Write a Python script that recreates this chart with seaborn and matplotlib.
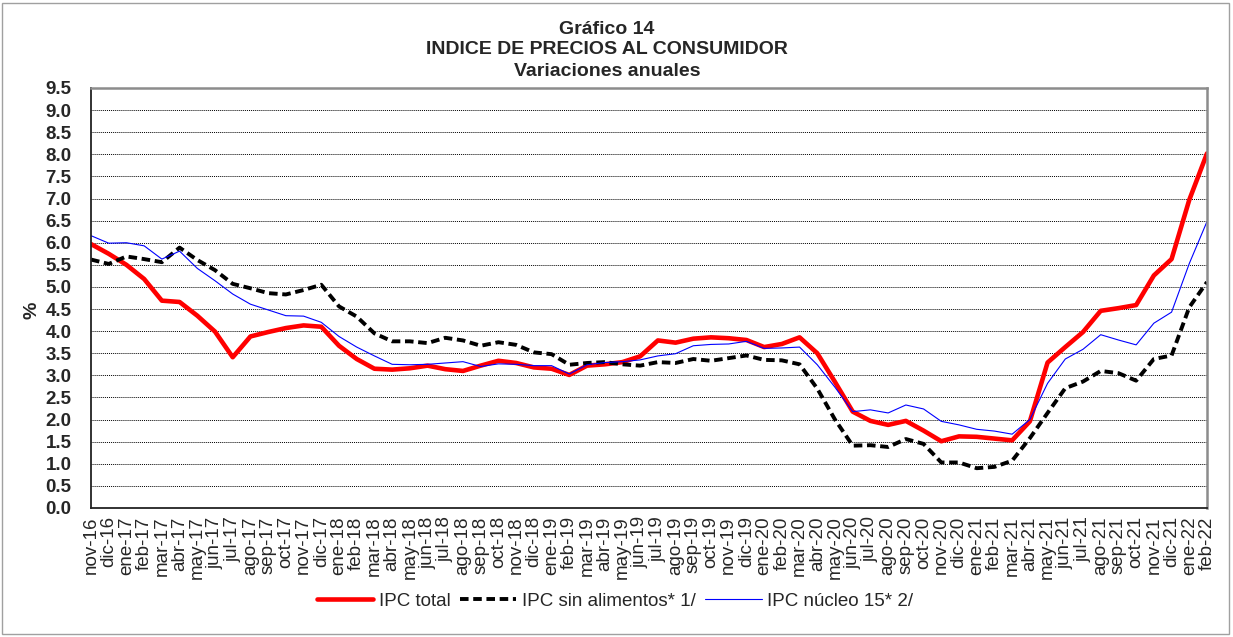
import matplotlib
matplotlib.use("Agg")
import matplotlib.pyplot as plt
from matplotlib.patches import Rectangle
import seaborn as sns
import pandas as pd

# data (annual % change)
months = [
    "nov-16", "dic-16",
    "ene-17", "feb-17", "mar-17", "abr-17", "may-17", "jun-17",
    "jul-17", "ago-17", "sep-17", "oct-17", "nov-17", "dic-17",
    "ene-18", "feb-18", "mar-18", "abr-18", "may-18", "jun-18",
    "jul-18", "ago-18", "sep-18", "oct-18", "nov-18", "dic-18",
    "ene-19", "feb-19", "mar-19", "abr-19", "may-19", "jun-19",
    "jul-19", "ago-19", "sep-19", "oct-19", "nov-19", "dic-19",
    "ene-20", "feb-20", "mar-20", "abr-20", "may-20", "jun-20",
    "jul-20", "ago-20", "sep-20", "oct-20", "nov-20", "dic-20",
    "ene-21", "feb-21", "mar-21", "abr-21", "may-21", "jun-21",
    "jul-21", "ago-21", "sep-21", "oct-21", "nov-21", "dic-21",
    "ene-22", "feb-22",
]

ipc_total = [
    5.97, 5.75, 5.50, 5.18, 4.69, 4.66, 4.35, 3.99, 3.41, 3.88,
    3.98, 4.07, 4.13, 4.10, 3.67, 3.37, 3.15, 3.13, 3.16, 3.22,
    3.14, 3.10, 3.22, 3.33, 3.28, 3.18, 3.15, 3.01, 3.22, 3.25,
    3.30, 3.43, 3.79, 3.74, 3.83, 3.86, 3.84, 3.80, 3.64, 3.71,
    3.86, 3.50, 2.85, 2.18, 1.97, 1.88, 1.97, 1.75, 1.51, 1.62,
    1.61, 1.57, 1.53, 1.96, 3.29, 3.64, 3.98, 4.46, 4.52, 4.59,
    5.26, 5.63, 6.97, 8.02,
]

ipc_sin_alimentos = [
    5.62, 5.52, 5.69, 5.63, 5.56, 5.89, 5.61, 5.38, 5.07, 4.97,
    4.86, 4.83, 4.93, 5.05, 4.56, 4.33, 3.95, 3.77, 3.77, 3.73,
    3.85, 3.79, 3.67, 3.75, 3.69, 3.52, 3.48, 3.24, 3.28, 3.30,
    3.25, 3.22, 3.30, 3.28, 3.37, 3.33, 3.39, 3.45, 3.35, 3.34,
    3.25, 2.70, 2.00, 1.41, 1.42, 1.38, 1.56, 1.45, 1.03, 1.03,
    0.90, 0.93, 1.07, 1.58, 2.15, 2.71, 2.86, 3.10, 3.05, 2.88,
    3.37, 3.45, 4.54, 5.11,
]

ipc_nucleo = [
    6.16, 5.99, 6.00, 5.93, 5.63, 5.81, 5.42, 5.14, 4.84, 4.61,
    4.48, 4.35, 4.34, 4.20, 3.88, 3.64, 3.44, 3.25, 3.24, 3.25,
    3.28, 3.31, 3.20, 3.26, 3.25, 3.22, 3.22, 3.03, 3.24, 3.29,
    3.31, 3.35, 3.44, 3.49, 3.67, 3.70, 3.71, 3.77, 3.61, 3.62,
    3.64, 3.24, 2.73, 2.18, 2.22, 2.15, 2.33, 2.24, 1.96, 1.88,
    1.78, 1.74, 1.67, 2.00, 2.82, 3.37, 3.59, 3.92, 3.80, 3.69,
    4.18, 4.43, 5.53, 6.48,
]

yticks = [i * 0.5 for i in range(20)]

df = pd.DataFrame({
    "pos": range(len(months)),
    "total": ipc_total,
    "sin_alim": ipc_sin_alimentos,
    "nucleo": ipc_nucleo,
})

sns.set_style("white")
plt.rcParams["font.family"] = ["Liberation Sans", "DejaVu Sans"]

fig = plt.figure(figsize=(12.33, 6.37), dpi=100)
ax = fig.add_axes([91 / 1233, 1 - 508 / 637, 1116 / 1233, 420 / 637])

sns.lineplot(data=df, x="pos", y="total", ax=ax, color="#ff0000",
             linewidth=3.3, label="IPC total")
sns.lineplot(data=df, x="pos", y="sin_alim", ax=ax, color="black",
             linewidth=2.8, label="IPC sin alimentos* 1/")
ax.lines[-1].set_dashes((3.2, 1.7))
sns.lineplot(data=df, x="pos", y="nucleo", ax=ax, color="#0000ff",
             linewidth=0.8, label="IPC núcleo 15* 2/")

ax.set_xlim(0, len(months) - 1)
ax.set_ylim(0, 9.5)
ax.set_yticks(yticks)
ax.set_yticklabels([f"{v:.1f}" for v in yticks], fontsize=13.5, fontweight="bold")
ax.set_xticks(range(len(months)))
ax.set_xticklabels(months, rotation=90, fontsize=13.5)
ax.tick_params(axis="x", direction="out", length=5, width=1, pad=1, color="black")
ax.tick_params(axis="y", direction="out", length=5, width=1, pad=9, color="black")

ax.yaxis.grid(True, linestyle=(0, (1, 1)), color="black", linewidth=0.7)
ax.xaxis.grid(False)

ax.set_xlabel("")
ax.set_ylabel("%", fontsize=14, fontweight="bold")
ax.yaxis.set_label_coords(-0.045, 0.47)

for side in ["left", "bottom"]:
    ax.spines[side].set_color("#222222")
    ax.spines[side].set_linewidth(1.3)
for side in ["top", "right"]:
    ax.spines[side].set_color("#8c8c8c")
    ax.spines[side].set_linewidth(1.8)

ax.get_legend().remove()
handles, labels = ax.get_legend_handles_labels()
handles[1].set_dashes((2.2, 1.2))
fig.legend(handles, labels, loc="center", bbox_to_anchor=(0.499, 1 - 601 / 637),
           ncol=3, frameon=False, fontsize=13.5, handlelength=3.0,
           handletextpad=0.3, columnspacing=0.5)

fig.text(607 / 1233, 1 - 30 / 637, "Gráfico 14", ha="center", va="center",
         fontsize=14, fontweight="bold")
fig.text(607 / 1233, 1 - 50 / 637, "INDICE DE PRECIOS AL CONSUMIDOR", ha="center",
         va="center", fontsize=14, fontweight="bold")
fig.text(607 / 1233, 1 - 71 / 637, "Variaciones anuales", ha="center", va="center",
         fontsize=14, fontweight="bold")

fig.patches.append(Rectangle((2 / 1233, 3 / 637), 1227 / 1233, 631 / 637,
                             transform=fig.transFigure, fill=False,
                             edgecolor="#a0a0a0", linewidth=1))

fig.savefig("out.png", dpi=100)
